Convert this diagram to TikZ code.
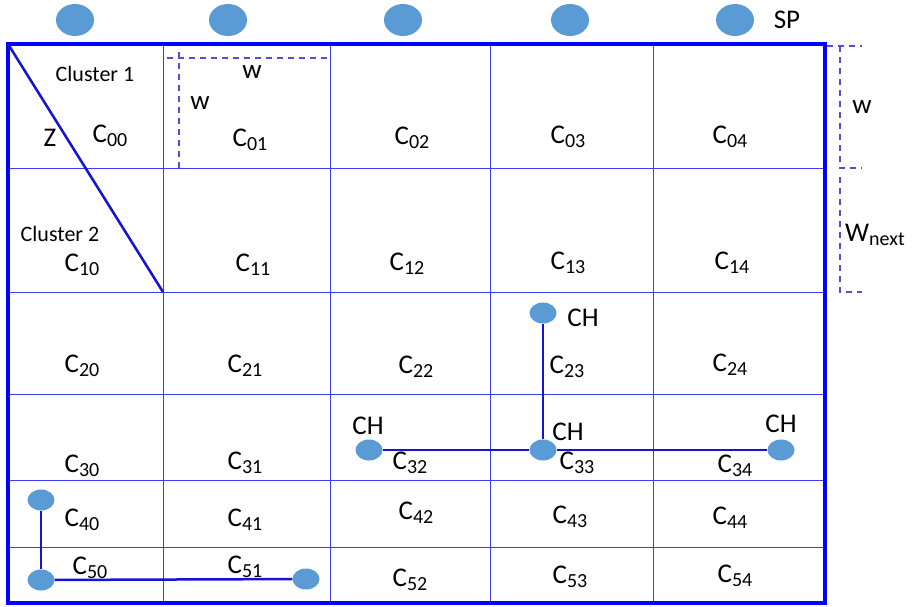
\documentclass[tikz,border=0pt]{standalone}
\usepackage{fontspec}
\setmainfont{Carlito}
\usetikzlibrary{shapes.geometric}
\definecolor{gridblue}{RGB}{60,60,240}
\definecolor{frameblue}{RGB}{0,0,255}
\definecolor{dotblue}{RGB}{91,155,213}
\definecolor{linkblue}{RGB}{20,20,215}
\definecolor{dashblue}{RGB}{80,80,215}
\newcommand\cel[1]{C\raisebox{-0.3ex}{\fontsize{20}{20}\selectfont #1}}
\begin{document}
\begin{tikzpicture}[x=1pt,y=-1pt,
  every node/.style={inner sep=0pt, font=\fontsize{27}{27}\selectfont},
  sp/.style={ellipse, fill=dotblue, minimum width=38pt, minimum height=32pt},
  ch/.style={ellipse, fill=dotblue, minimum width=27pt, minimum height=21pt},
  link/.style={draw=linkblue, line width=2.5pt},
  gridline/.style={draw=gridblue, line width=1pt},
  frame/.style={draw=frameblue, line width=3.5pt},
  dim/.style={draw=dashblue, line width=1.3pt, dash pattern=on 6pt off 5pt},
  cl/.style={font=\fontsize{22}{22}\selectfont},
  ]
\useasboundingbox (0,0) rectangle (918,606);
% grid
\foreach \x in {163,330,490,653} \draw[gridline] (\x,44) -- (\x,603);
\foreach \y in {168,292,394,480,547} \draw[gridline] (8,\y) -- (825,\y);
\draw[frame] (8,44) rectangle (825,603);
% diagonal cluster border
\coordinate (dtop) at (8,44);
\coordinate (dbot) at (163,292);
\draw[link] (dtop) -- (dbot);
% dashed w markers
\draw[dim] (167,58) -- (330,58);
\draw[dim] (179,52) -- (179,168);
\draw[dim] (827,46) -- (862,46);
\draw[dim] (840,46) -- (840,168) -- (862,168);
\draw[dim] (840,177) -- (840,292) -- (862,292);
% top sink points
\foreach \x [count=\i] in {75,228,403,570,735} \node[sp] (sp\i) at (\x,20) {};
\node (splab) at (787,20) {SP};
% texts
\node[cl] (cl1) at (95,74) {Cluster 1};
\node[cl] (cl2) at (60,234) {Cluster 2};
\node (z) at (50,138) {Z};
\node (w1) at (252,72) {w};
\node (w2) at (200,103) {w};
\node (w3) at (862,107) {w};
\node (w4) at (875,235) {W\raisebox{-0.3ex}{\fontsize{20}{20}\selectfont next}};
% cell labels
\node (c00) at (110,136) {\cel{00}};
\node (c01) at (250,140) {\cel{01}};
\node (c02) at (412,138) {\cel{02}};
\node (c03) at (568,137) {\cel{03}};
\node (c04) at (730,137) {\cel{04}};
\node (c10) at (82,265) {\cel{10}};
\node (c11) at (253,265) {\cel{11}};
\node (c12) at (407,264) {\cel{12}};
\node (c13) at (568,263) {\cel{13}};
\node (c14) at (732,263) {\cel{14}};
\node (c20) at (82,366) {\cel{20}};
\node (c21) at (245,366) {\cel{21}};
\node (c22) at (416,367) {\cel{22}};
\node (c23) at (567,367) {\cel{23}};
\node (c24) at (730,365) {\cel{24}};
\node (c30) at (82,466) {\cel{30}};
\node (c31) at (245,463) {\cel{31}};
\node (c32) at (410,463) {\cel{32}};
\node (c33) at (577,463) {\cel{33}};
\node (c34) at (735,466) {\cel{34}};
\node (c40) at (82,520) {\cel{40}};
\node (c41) at (245,520) {\cel{41}};
\node (c42) at (416,513) {\cel{42}};
\node (c43) at (570,517) {\cel{43}};
\node (c44) at (730,518) {\cel{44}};
\node (c50) at (90,568) {\cel{50}};
\node (c51) at (245,567) {\cel{51}};
\node (c52) at (410,580) {\cel{52}};
\node (c53) at (570,577) {\cel{53}};
\node (c54) at (735,576) {\cel{54}};
% cluster heads
\node[ch] (h23) at (543,313) {};
\node[ch] (h32) at (369,450) {};
\node[ch] (h33) at (543,450) {};
\node[ch] (h34) at (781,450) {};
\node (l23) at (583,318) {CH};
\node (l32) at (368,426) {CH};
\node (l33) at (568,432) {CH};
\node (l34) at (781,424) {CH};
\draw[link] (h23) -- (h33);
\draw[link] (h32) -- (h33);
\draw[link] (h33) -- (h34);
% bottom-left chain
\node[ch] (b40) at (41,500) {};
\node[ch] (b50) at (41,580) {};
\node[ch] (b51) at (306,579) {};
\draw[link] (b40) -- (b50);
\draw[link] (b50) -- (b51);
\end{tikzpicture}
\end{document}
